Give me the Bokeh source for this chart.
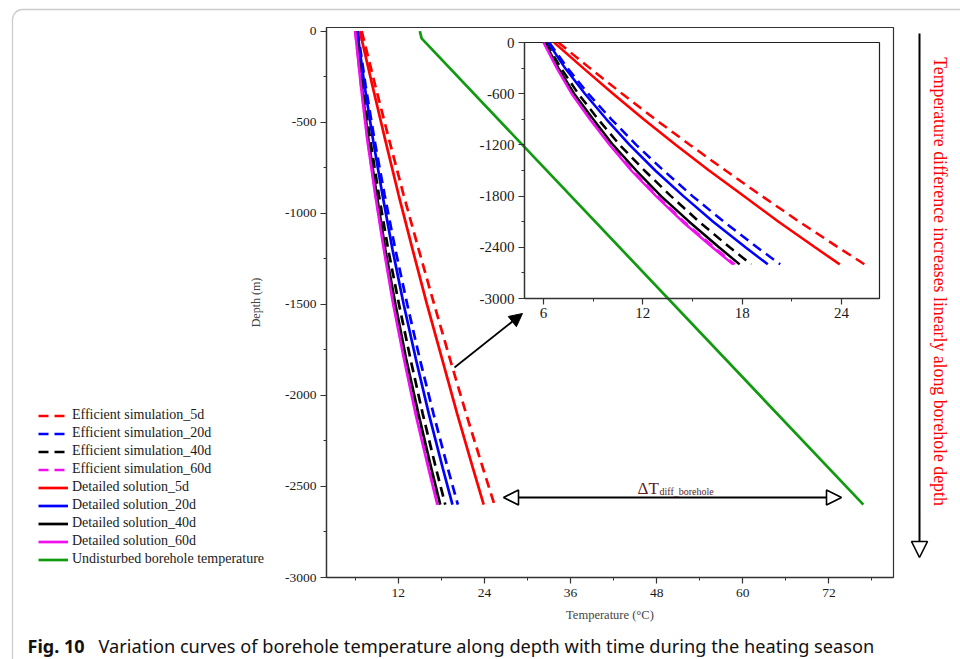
from math import pi, nan

from bokeh.embed import file_html
from bokeh.models import (Arrow, BoxAnnotation, Column, FixedTicker, GridBox, Label, Legend,
                          LegendItem, NormalHead, Range1d)
from bokeh.plotting import figure
from bokeh.resources import INLINE

# ---------------------------------------------------------------- data
depth = [0, -300, -600, -900, -1200, -1500, -1800, -2100, -2400, -2600]

eff_5d = [6.9, 8.8, 10.75, 12.75, 14.85, 17.0, 19.2, 21.45, 23.8, 25.4]
eff_20d = [6.35, 7.45, 8.7, 10.1, 11.6, 13.25, 15.0, 16.9, 18.9, 20.3]
eff_40d = [6.15, 7.05, 8.1, 9.3, 10.6, 12.1, 13.7, 15.4, 17.25, 18.55]
eff_60d = [6.02, 6.83, 7.74, 8.85, 10.06, 11.37, 12.88, 14.49, 16.3, 17.55]

det_5d = [6.64, 8.4, 10.2, 12.05, 14.0, 16.0, 18.1, 20.2, 22.4, 23.9]
det_20d = [6.28, 7.3, 8.5, 9.8, 11.2, 12.75, 14.45, 16.25, 18.2, 19.55]
det_40d = [6.08, 6.9, 7.85, 9.0, 10.2, 11.6, 13.1, 14.8, 16.6, 17.85]
det_60d = [6.0, 6.8, 7.7, 8.8, 10.0, 11.3, 12.8, 14.4, 16.2, 17.45]

undisturbed_depth = [0, -40, -2600]
undisturbed_temp = [15.0, 15.25, 76.8]

main_x_ticks = [12, 24, 36, 48, 60, 72]
main_x_minor = [6, 18, 30, 42, 54, 66, 78]
main_x_labels = ["12", "24", "36", "48", "60", "72"]
main_y_ticks = [0, -500, -1000, -1500, -2000, -2500, -3000]
main_y_minor = [-250, -750, -1250, -1750, -2250, -2750]
main_y_labels = ["0", "-500", "-1000", "-1500", "-2000", "-2500", "-3000"]

inset_x_ticks = [6, 12, 18, 24]
inset_x_minor = [9, 15, 21]
inset_x_labels = ["6", "12", "18", "24"]
inset_y_ticks = [0, -600, -1200, -1800, -2400, -3000]
inset_y_minor = [-300, -900, -1500, -2100, -2700]
inset_y_labels = ["0", "-600", "-1200", "-1800", "-2400", "-3000"]

RED, BLUE, BLACK, MAGENTA, GREEN = "#ff0000", "#0000ff", "#000000", "#ee11ee", "#109a10"
DASH = "10 6"

series = [
    ("Efficient simulation_5d", eff_5d, RED, DASH),
    ("Efficient simulation_20d", eff_20d, BLUE, DASH),
    ("Efficient simulation_40d", eff_40d, BLACK, DASH),
    ("Efficient simulation_60d", eff_60d, MAGENTA, DASH),
    ("Detailed solution_5d", det_5d, RED, "solid"),
    ("Detailed solution_20d", det_20d, BLUE, "solid"),
    ("Detailed solution_40d", det_40d, BLACK, "solid"),
    ("Detailed solution_60d", det_60d, MAGENTA, "solid"),
]
undisturbed_name = "Undisturbed borehole temperature"

SERIF = "Liberation Serif"
SANS = "Noto Sans"
AXIS_GREY = "#333333"
W, H = 960, 659

# ---------------------------------------------------------------- page layer
# pixel coordinates, origin top-left; holds everything outside the plot frame
page = figure(width=W, height=H, x_range=Range1d(0, W), y_range=Range1d(H, 0),
              min_border=0, x_axis_location=None, y_axis_location=None,
              toolbar_location=None, output_backend="svg", title=None)
page.grid.visible = False
page.outline_line_color = None
page.background_fill_color = "white"
page.border_fill_color = "white"

# figure box with a rounded top-left corner
page.add_layout(BoxAnnotation(left=12, right=W + 40, top=9, bottom=H + 40,
                              fill_alpha=0, line_color="#555555", line_width=1.3,
                              border_radius=10))

# legend keys: styled stand-ins (a single undrawn point each) for the plotted series
proxies = []
for name, vals, color, dash in series:
    proxies.append((name, page.line([nan], [nan], line_color=color, line_width=2.7, line_dash=dash)))
proxies.append((undisturbed_name, page.line([nan], [nan], line_color=GREEN, line_width=2.7)))
legend = Legend(items=[LegendItem(label=k, renderers=[r]) for k, r in proxies],
                location=(38, H - 567))
legend.padding = 0
legend.margin = 0
legend.border_line_alpha = 0
legend.background_fill_alpha = 0
legend.glyph_width = 30
legend.glyph_height = 15
legend.label_height = 15
legend.spacing = 2
legend.label_standoff = 4
legend.label_text_font = SERIF
legend.label_text_font_size = "14px"
legend.label_text_color = "#1a1a1a"
page.add_layout(legend)

# depth-direction arrow and note on the right
page.add_layout(Arrow(x_start=919, y_start=33, x_end=919, y_end=557,
                      line_width=2, line_color="black",
                      end=NormalHead(size=16, fill_color="white", line_color="black", line_width=1.6)))
page.add_layout(Label(x=939, y=281,
                      text="Temperature difference increases linearly along borehole depth",
                      angle=-pi / 2, text_align="center", text_baseline="middle",
                      text_font=SERIF, text_font_size="17.8px", text_color="#ff0000"))

# caption
page.add_layout(Label(x=27, y=645, text="Fig. 10", text_font=SANS,
                      text_font_style="bold", text_font_size="18px", text_color="#111111",
                      text_baseline="alphabetic"))
page.add_layout(Label(x=98, y=645,
                      text="Variation curves of borehole temperature along depth with time during the heating season",
                      text_font=SANS, text_font_size="18.2px",
                      text_color="#111111", text_baseline="alphabetic"))

# ---------------------------------------------------------------- main plot
FL, FR, FT, FB = 326, 893, 27, 577          # frame edges in page pixels
XR = (2, 81)
YR = (-3000, 20)


def px_x(px):
    return XR[0] + (px - FL) * (XR[1] - XR[0]) / (FR - FL)


def px_y(py):
    return YR[1] - (py - FT) * (YR[1] - YR[0]) / (FB - FT)


fig = figure(width=W, height=H, x_range=Range1d(*XR), y_range=Range1d(*YR),
             min_border_left=FL, min_border_right=W - FR,
             min_border_top=FT, min_border_bottom=H - FB,
             toolbar_location=None, output_backend="svg", title=None)
fig.background_fill_color = None
fig.border_fill_color = None
fig.outline_line_color = AXIS_GREY
fig.outline_line_width = 1.2
fig.grid.visible = False


def style_axis(ax, size, standoff):
    ax.axis_line_color = AXIS_GREY
    ax.axis_line_width = 1.3
    ax.major_tick_line_color = AXIS_GREY
    ax.major_tick_line_width = 1.2
    ax.major_tick_out = 6
    ax.major_tick_in = 0
    ax.minor_tick_line_color = AXIS_GREY
    ax.minor_tick_line_width = 1.0
    ax.minor_tick_out = 3
    ax.minor_tick_in = 0
    ax.major_label_text_font = SERIF
    ax.major_label_text_font_size = size
    ax.major_label_text_color = "#1a1a1a"
    ax.major_label_standoff = standoff


xa = fig.xaxis[0]
xa.ticker = FixedTicker(ticks=main_x_ticks, minor_ticks=main_x_minor)
xa.major_label_overrides = dict(zip(main_x_ticks, main_x_labels))
style_axis(xa, "13.5px", 5)
xa.axis_label = "Temperature (°C)"
xa.axis_label_text_font = SERIF
xa.axis_label_text_font_style = "normal"
xa.axis_label_text_font_size = "12.5px"
xa.axis_label_standoff = 8

ya = fig.yaxis[0]
ya.ticker = FixedTicker(ticks=main_y_ticks, minor_ticks=main_y_minor)
ya.major_label_overrides = dict(zip(main_y_ticks, main_y_labels))
style_axis(ya, "13.5px", 4)
ya.axis_label = "Depth (m)"
ya.axis_label_text_font = SERIF
ya.axis_label_text_font_style = "normal"
ya.axis_label_text_font_size = "12px"
ya.axis_label_standoff = 19

for name, vals, color, dash in series:
    fig.line(vals, depth, line_color=color, line_width=2.7, line_dash=dash)
fig.line(undisturbed_temp, undisturbed_depth, line_color=GREEN, line_width=2.7)

# pointer from the curves towards the enlarged view
fig.add_layout(Arrow(x_start=px_x(454), y_start=px_y(367), x_end=px_x(522), y_end=px_y(313),
                     line_width=1.8, line_color="black",
                     end=NormalHead(size=13, fill_color="black", line_color="black")))

# temperature gap at the bottom of the borehole
fig.add_layout(Arrow(x_start=px_x(503), y_start=px_y(497), x_end=px_x(841), y_end=px_y(497),
                     line_width=2, line_color="black",
                     start=NormalHead(size=15, fill_color="white", line_color="black", line_width=1.6),
                     end=NormalHead(size=15, fill_color="white", line_color="black", line_width=1.6)))
DT_COLOR = "#5c1c1c"
fig.add_layout(Label(x=px_x(637), y=px_y(488), text="ΔT", text_font=SERIF,
                     text_font_size="17px", text_color=DT_COLOR, text_baseline="alphabetic"))
fig.add_layout(Label(x=px_x(659), y=px_y(491), text="diff_borehole", text_font=SERIF,
                     text_font_size="10px", text_color=DT_COLOR, text_baseline="alphabetic"))

# ---------------------------------------------------------------- enlarged view
IL, IR, IT, IB = 524, 879, 42, 298
I_LEFT_BORDER, I_TOP_BORDER, I_BOTTOM_BORDER, I_RIGHT_BORDER = 55, 10, 30, 5

ins = figure(width=I_LEFT_BORDER + (IR - IL) + I_RIGHT_BORDER,
             height=I_TOP_BORDER + (IB - IT) + I_BOTTOM_BORDER,
             x_range=Range1d(4.85, 26.3), y_range=Range1d(-3000, 0),
             min_border_left=I_LEFT_BORDER, min_border_right=I_RIGHT_BORDER,
             min_border_top=I_TOP_BORDER, min_border_bottom=I_BOTTOM_BORDER,
             toolbar_location=None, output_backend="svg", title=None)
ins.background_fill_color = None
ins.border_fill_color = None
ins.outline_line_color = "#222222"
ins.outline_line_width = 1.2
ins.grid.visible = False

ixa = ins.xaxis[0]
ixa.ticker = FixedTicker(ticks=inset_x_ticks, minor_ticks=inset_x_minor)
ixa.major_label_overrides = dict(zip(inset_x_ticks, inset_x_labels))
style_axis(ixa, "15px", 3)
iya = ins.yaxis[0]
iya.ticker = FixedTicker(ticks=inset_y_ticks, minor_ticks=inset_y_minor)
iya.major_label_overrides = dict(zip(inset_y_ticks, inset_y_labels))
style_axis(iya, "15px", 4)

for name, vals, color, dash in series:
    ins.line(vals, depth, line_color=color, line_width=2.5, line_dash=dash)

# each layer sits in its own wrapper so the plots keep their own borders;
# the wrappers share one grid cell and are stacked in this order
page_layer = Column(children=[page])
main_layer = Column(children=[fig])
inset_layer = Column(children=[ins], margin=(IT - I_TOP_BORDER, 0, 0, IL - I_LEFT_BORDER))
p = GridBox(children=[(page_layer, 0, 0), (main_layer, 0, 0), (inset_layer, 0, 0)])

open("out.html", "w").write(file_html(p, INLINE))
